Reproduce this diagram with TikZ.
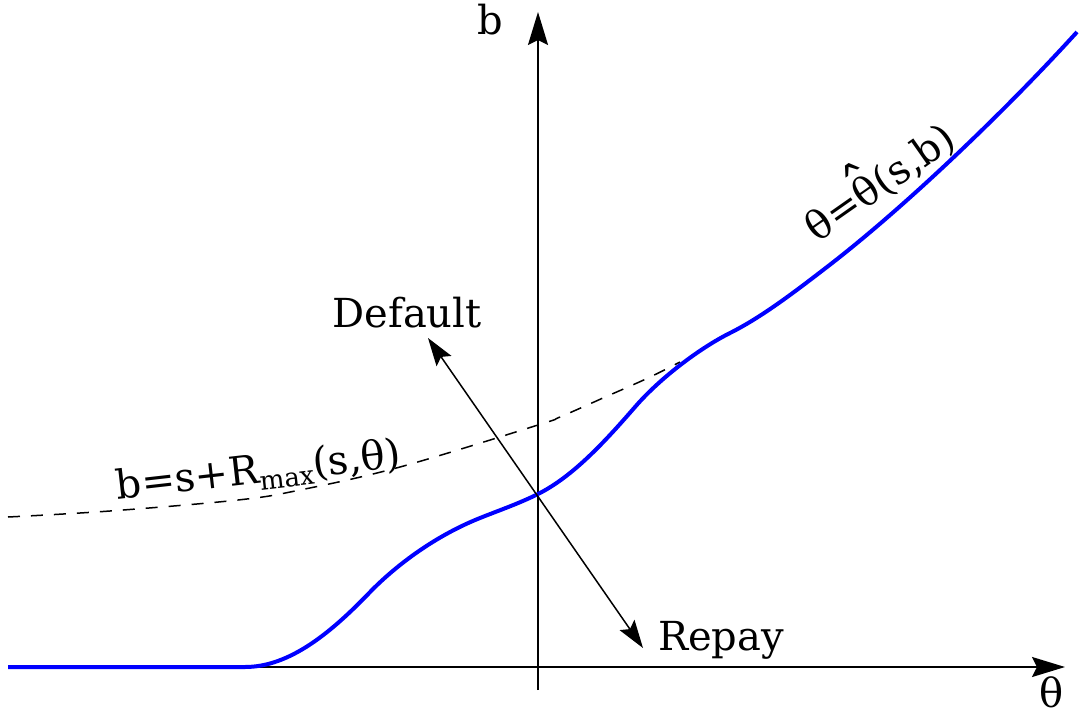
\documentclass[tikz,border=0pt]{standalone}
\usepackage{fontspec}
\setmainfont{DejaVu Serif}
\usetikzlibrary{arrows.meta}
\newcommand{\hattheta}{{\ooalign{θ\cr\hidewidth\raisebox{1.2pt}{\fontsize{28}{28}\selectfont ˆ}\hidewidth\cr}}}
\begin{document}
\begin{tikzpicture}[x=0.5pt,y=-0.5pt,
  axis/.style={line width=1pt,-{Stealth[length=16.5pt,width=10pt,inset=2.5pt]}},
  choice/.style={line width=0.75pt,{Stealth[length=14pt,width=9pt,inset=2.5pt]}-{Stealth[length=14pt,width=9pt,inset=2.5pt]}},
  bluecurve/.style={blue,line width=2pt,line join=round},
  dashcurve/.style={black,line width=0.75pt,dash pattern=on 6pt off 5.5pt},
  lbl/.style={font=\fontsize{20}{24}\selectfont,inner sep=0pt}]
\useasboundingbox (0,0) rectangle (1080,717);
% axes
\coordinate (xs) at (8,667);
\coordinate (xe) at (1065,667);
\coordinate (ys) at (538,690);
\coordinate (ye) at (538,12);
\draw[axis] (xs) -- (xe);
\draw[axis] (ys) -- (ye);
\node[lbl,anchor=base] (blab) at (490,35) {b};
\node[lbl,anchor=base] (thlab) at (1052,707) {θ};
% dashed curve
\draw[dashcurve] plot[smooth,tension=0.6] coordinates {(8,517) (110,511) (238,500) (300,490) (400,467) (538,425) (560,417) (603,398) (648,378) (680,362)};
% blue curve
\draw[bluecurve] (8,667) -- (245,667)
  .. controls (290,667) and (332,632) .. (372,590)
  .. controls (402,560) and (440,534) .. (480,518)
  .. controls (499,510.4) and (519,503.5) .. (538,494)
  .. controls (573,476.5) and (605,441.5) .. (635,407)
  .. controls (660,378) and (700,348) .. (730,333)
  .. controls (762,317) and (795,291.6) .. (827,267)
  .. controls (907,205.4) and (1007,109) .. (1077,32);
% default / repay arrow
\coordinate (dtip) at (428,338);
\coordinate (rtip) at (643,648);
\draw[choice] (dtip) -- (rtip);
\node[lbl,anchor=base] (def) at (407,327) {Default};
\node[lbl,anchor=base] (rep) at (721,650) {Repay};
% curve labels
\node[lbl,anchor=base,rotate=6.5] (rmax) at (260,483) {b=s+R\raisebox{-0.35ex}{\fontsize{13}{13}\selectfont max}(s,θ)};
\node[lbl,anchor=base,rotate=35] (that) at (888,194) {θ=\hattheta(s,b)};
\end{tikzpicture}
\end{document}
